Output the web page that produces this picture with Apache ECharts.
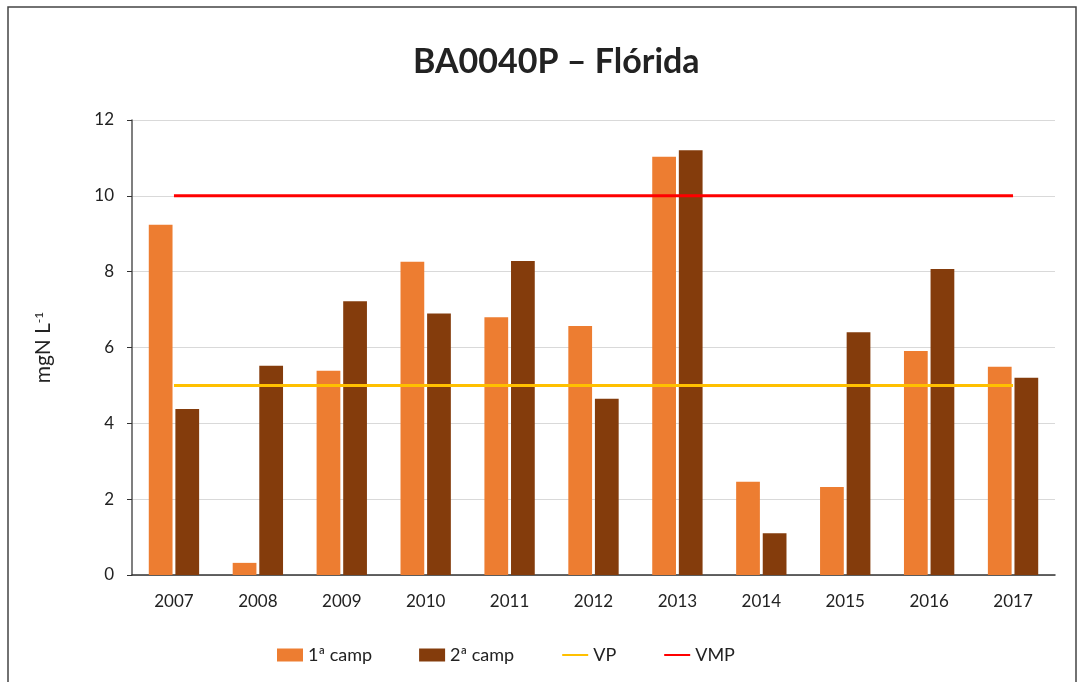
<!DOCTYPE html>
<html>
<head>
<meta charset="utf-8">
<title>BA0040P – Flórida</title>
<script src="https://cdn.jsdelivr.net/npm/echarts@6/dist/echarts.min.js"></script>
<style>
  html, body { margin: 0; padding: 0; background: #fff; }
  #chart { width: 1086px; height: 682px; }
</style>
</head>
<body>
<div id="chart"></div>
<script>
const years = ["2007", "2008", "2009", "2010", "2011", "2012", "2013", "2014", "2015", "2016", "2017"]
const camp1 = [9.24, 0.32, 5.39, 8.26, 6.8, 6.57, 11.03, 2.46, 2.32, 5.91, 5.49]
const camp2 = [4.38, 5.52, 7.22, 6.9, 8.28, 4.65, 11.2, 1.1, 6.4, 8.07, 5.2]
const vp = [5, 5, 5, 5, 5, 5, 5, 5, 5, 5, 5]
const vmp = [10, 10, 10, 10, 10, 10, 10, 10, 10, 10, 10]

const font = "Lato"
const myChart = echarts.init(document.getElementById("chart"))

const option = {
  animation: false,
  textStyle: { fontFamily: font },
  title: {
    text: "BA0040P – Flórida",
    left: 408,
    top: 40,
    textStyle: { fontSize: 34, fontWeight: "bold", color: "#222", fontFamily: font }
  },
  graphic: [
    {
      type: "rect",
      shape: { x: 8, y: 7, width: 1068, height: 700 },
      style: { fill: "none", stroke: "#444", lineWidth: 1.5 },
      silent: true
    }
  ],
  grid: { left: 132, right: 31, top: 120, bottom: 107 },
  legend: {
    bottom: 13,
    left: 272,
    itemWidth: 26,
    itemHeight: 13,
    itemGap: 47,
    textStyle: { fontSize: 18, color: "#222", fontFamily: font },
    data: [
      { name: "1ª camp", icon: "rect" },
      { name: "2ª camp", icon: "rect" },
      { name: "VP", itemStyle: { opacity: 0 } },
      { name: "VMP", itemStyle: { opacity: 0 } }
    ]
  },
  xAxis: {
    type: "category",
    data: years,
    axisLine: { lineStyle: { color: "#333", width: 1.5 } },
    axisTick: { show: false },
    axisLabel: { fontSize: 17, color: "#222", margin: 18 }
  },
  yAxis: {
    type: "value",
    min: 0,
    max: 12,
    interval: 2,
    name: "{a|mgN L}{sup|-1}",
    nameLocation: "middle",
    nameGap: 78,
    nameRotate: 90,
    nameTextStyle: {
      color: "#222",
      rich: {
        a: { fontSize: 21, color: "#222", fontFamily: font },
        sup: { fontSize: 12, verticalAlign: "top", color: "#222", fontFamily: font }
      }
    },
    axisLine: { show: true, lineStyle: { color: "#555", width: 1.5 } },
    axisTick: { show: true, length: 5, lineStyle: { color: "#333" } },
    axisLabel: { fontSize: 17, color: "#222", margin: 18 },
    splitLine: { lineStyle: { color: "#d9d9d9", width: 1.2 } }
  },
  series: [
    {
      name: "1ª camp",
      type: "bar",
      data: camp1,
      barGap: "12%",
      barCategoryGap: "40%",
      itemStyle: { color: "#ED7D31" }
    },
    {
      name: "2ª camp",
      type: "bar",
      data: camp2,
      itemStyle: { color: "#843C0C" }
    },
    {
      name: "VP",
      type: "line",
      data: vp,
      symbol: "none",
      lineStyle: { color: "#FFC000", width: 3 },
      itemStyle: { color: "#FFC000" },
      z: 5
    },
    {
      name: "VMP",
      type: "line",
      data: vmp,
      symbol: "none",
      lineStyle: { color: "#FF0000", width: 3 },
      itemStyle: { color: "#FF0000" },
      z: 5
    }
  ]
}

myChart.setOption(option)
window.addEventListener("resize", () => {
  myChart.resize()
})
</script>
</body>
</html>
